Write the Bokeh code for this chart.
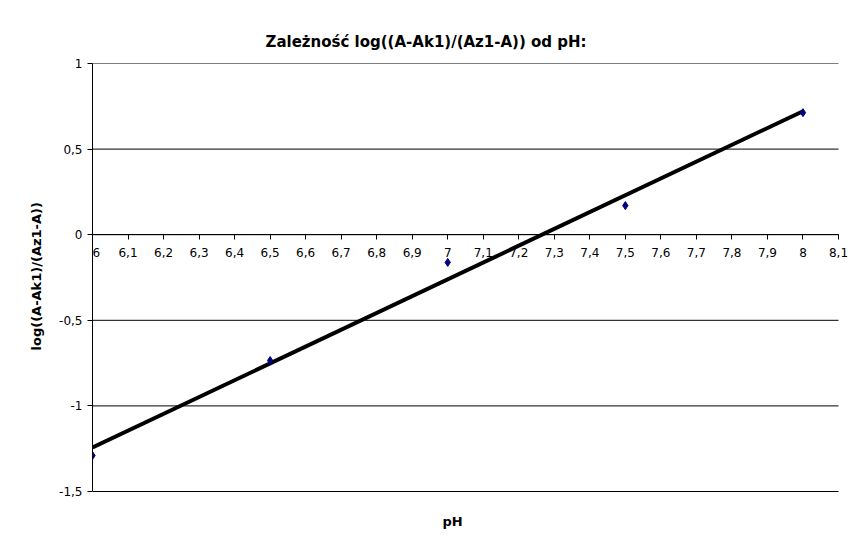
import numpy as np
from bokeh.plotting import figure
from bokeh.models import FixedTicker, Title, Range1d, LabelSet, Label, ColumnDataSource
from bokeh.core.properties import value
from bokeh.embed import file_html
from bokeh.resources import INLINE

# data
ph = [6.0, 6.5, 7.0, 7.5, 8.0]
log_ratio = [-1.29, -0.735, -0.162, 0.17, 0.713]

x_ticks = [6.0, 6.1, 6.2, 6.3, 6.4, 6.5, 6.6, 6.7, 6.8, 6.9, 7.0, 7.1, 7.2, 7.3, 7.4, 7.5, 7.6, 7.7, 7.8, 7.9, 8.0, 8.1]
x_tick_labels = ["6", "6,1", "6,2", "6,3", "6,4", "6,5", "6,6", "6,7", "6,8", "6,9", "7", "7,1", "7,2", "7,3", "7,4", "7,5", "7,6", "7,7", "7,8", "7,9", "8", "8,1"]
y_ticks = [-1.5, -1.0, -0.5, 0.0, 0.5, 1.0]
y_tick_labels = ["-1,5", "-1", "-0,5", "0", "0,5", "1"]

title_text = "Zależność log((A-Ak1)/(Az1-A)) od pH:"
x_label = "pH"
y_label = "log((A-Ak1)/(Az1-A))"

FONT = "DejaVu Sans"

# frame: x from 92 to 850 px (axis 6..8.1 -> 92..838 px),
#        y from 63 to 532 px (axis 1..-1.5 -> 63..491 px)
x_min, x_max = x_ticks[0], x_ticks[-1]
y_min, y_max = y_ticks[0], y_ticks[-1]
x_end = x_max + 12.0 * (x_max - x_min) / 746.0
y_start = y_min - 41.0 * (y_max - y_min) / 428.0

p = figure(width=850, height=532, output_backend="svg", toolbar_location=None,
           x_range=Range1d(x_min, x_end), y_range=Range1d(y_start, y_max),
           min_border_left=92, min_border_right=0, min_border_top=63, min_border_bottom=0)
p.outline_line_color = None
p.background_fill_color = "white"
p.border_fill_color = "white"

# horizontal grid lines spanning the axis extent only
p.xgrid.grid_line_color = None
p.ygrid.grid_line_color = None
p.segment(x0=[x_min] * len(y_ticks), x1=[x_max] * len(y_ticks), y0=y_ticks, y1=y_ticks,
          line_color="black", line_width=1)

# trend line (least squares fit of the data)
k, b = np.polyfit(ph, log_ratio, 1)
xt = [ph[0], ph[-1]]
yt = [k * v + b for v in xt]
p.line(xt, yt, line_color="black", line_width=4)

p.scatter(ph, log_ratio, marker="diamond", size=8, fill_color="#000080", line_color="#000080")

# axes
p.xaxis.fixed_location = 0
p.xaxis.ticker = FixedTicker(ticks=x_ticks)
p.xaxis.major_label_text_color = None
p.xaxis.major_label_text_font_size = "0px"
p.yaxis.ticker = FixedTicker(ticks=y_ticks)
p.yaxis.major_label_overrides = {t: l for t, l in zip(y_ticks, y_tick_labels)}
for ax in (p.xaxis[0], p.yaxis[0]):
    ax.axis_line_color = "black"
    ax.major_tick_line_color = "black"
    ax.major_tick_in = 0
    ax.major_tick_out = 5
    ax.minor_tick_line_color = None
p.xaxis.bounds = (x_min, x_max)
p.yaxis.bounds = (y_min, y_max)
p.yaxis.major_label_text_font = FONT
p.yaxis.major_label_text_font_size = "12px"
p.yaxis.major_label_text_color = "black"
p.yaxis.major_label_standoff = 5

# x tick labels drawn next to the zero line
tick_src = ColumnDataSource(dict(x=x_ticks[1:], y=[0.0] * (len(x_ticks) - 1), text=x_tick_labels[1:]))
p.add_layout(LabelSet(x="x", y="y", text="text", source=tick_src, y_offset=-18,
                      text_align="center", text_baseline="middle", text_font=value(FONT),
                      text_font_size=value("12px"), text_color="black"))
p.add_layout(Label(x=x_ticks[0], y=0.0, text=x_tick_labels[0], y_offset=-18, x_offset=0,
                   text_align="left", text_baseline="middle", text_font=FONT,
                   text_font_size="12px", text_color="black"))

# x axis title below the plot area
p.add_layout(Label(x=(x_min + x_max) / 2, y=y_min, text=x_label, x_offset=-13, y_offset=-30,
                   text_align="center", text_baseline="middle", text_font=FONT,
                   text_font_size="13px", text_font_style="bold", text_color="black"))

# y axis title, placed beside the tick labels
p.add_layout(Title(text=y_label, align="left", text_font=FONT, text_font_size="13px",
                   text_font_style="bold", text_color="black", offset=182, standoff=26), "left")

p.title = Title(text=title_text, align="left", text_font=FONT, text_font_size="15px",
                text_font_style="bold", text_color="black", offset=173, standoff=26)

open("out.html", "w").write(file_html(p, INLINE))
